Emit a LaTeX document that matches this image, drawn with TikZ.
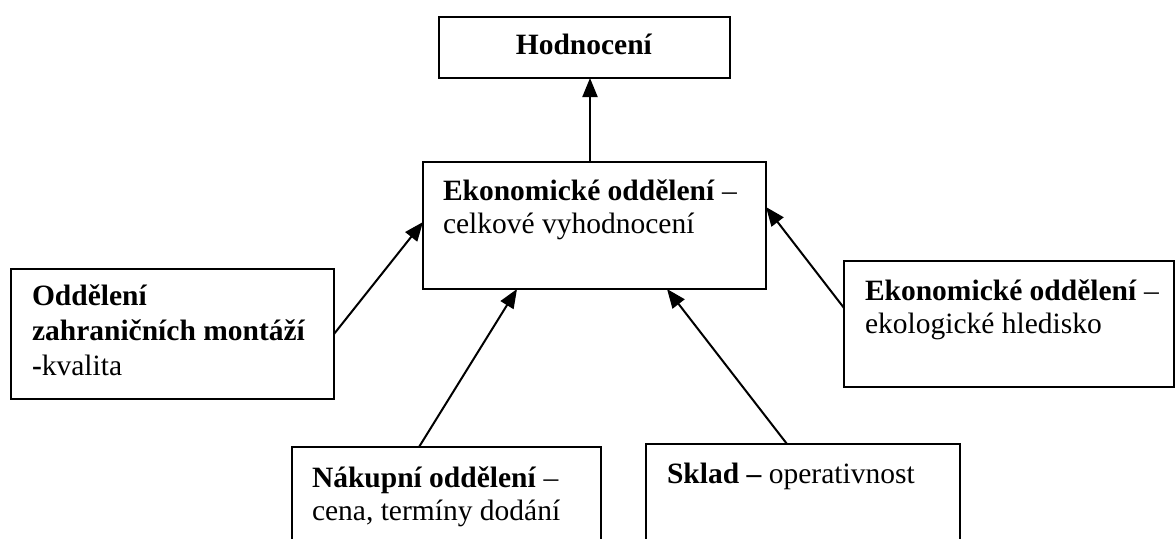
\documentclass[tikz,border=0pt]{standalone}
\usepackage{fontspec}
\setmainfont{Liberation Serif}
\usetikzlibrary{arrows.meta,calc}
\begin{document}
\begin{tikzpicture}[x=1pt,y=-1pt,
  box/.style={draw=black,line width=2.2pt,inner sep=0pt,outer sep=0pt,anchor=north west},
  txt/.style={inner sep=0pt,outer sep=0pt,align=left,anchor=base west,
    font=\fontsize{29.5}{33}\selectfont},
  arr/.style={line width=2pt,-{Triangle[length=19pt,width=15pt]}}]
\useasboundingbox (0,0) rectangle (1175,538);
\clip (0,0) rectangle (1175,538);

% boxes
\node[box,minimum width=291pt,minimum height=61pt] (H) at (439,17) {};
\node[box,minimum width=343pt,minimum height=127pt] (C) at (423,162) {};
\node[box,minimum width=323pt,minimum height=130pt] (L) at (11,269) {};
\node[box,minimum width=330pt,minimum height=126pt] (R) at (844,261) {};
\node[box,minimum width=309pt,minimum height=120pt] (BL) at (292,447) {};
\node[box,minimum width=314pt,minimum height=120pt] (BR) at (646,444) {};

% texts (anchored at the baseline of their last line)
\node[txt,anchor=base] (tH) at (584,54) {\textbf{Hodnocení}};
\node[txt] (tC) at (443,233) {\textbf{Ekonomické oddělení} –\\celkové vyhodnocení};
\node[txt] (tL) at (32,375) {\textbf{Oddělení}\\[2pt]\textbf{zahraničních montáží}\\[2pt]\textbf{-}kvalita};
\node[txt] (tR) at (865,333) {\textbf{Ekonomické oddělení} –\\ekologické hledisko};
\node[txt] (tBL) at (312,520) {\textbf{Nákupní oddělení} –\\cena, termíny dodání};
\node[txt] (tBR) at (667,483) {\textbf{Sklad –} operativnost};

% connectors
\draw[arr] ([xshift=-4.5pt]C.north) -- ([xshift=-4.5pt]C.north |- H.south);
\draw[arr] (L.east) -- ([yshift=3.5pt]C.west);
\draw[arr] ([xshift=-27.5pt]BL.north) -- ([xshift=-77.5pt]C.south);
\draw[arr] ([xshift=-16pt]BR.north) -- ([xshift=72.5pt]C.south);
\draw[arr] ([yshift=16pt]R.west) -- ([yshift=18.5pt]C.east);
\end{tikzpicture}
\end{document}
